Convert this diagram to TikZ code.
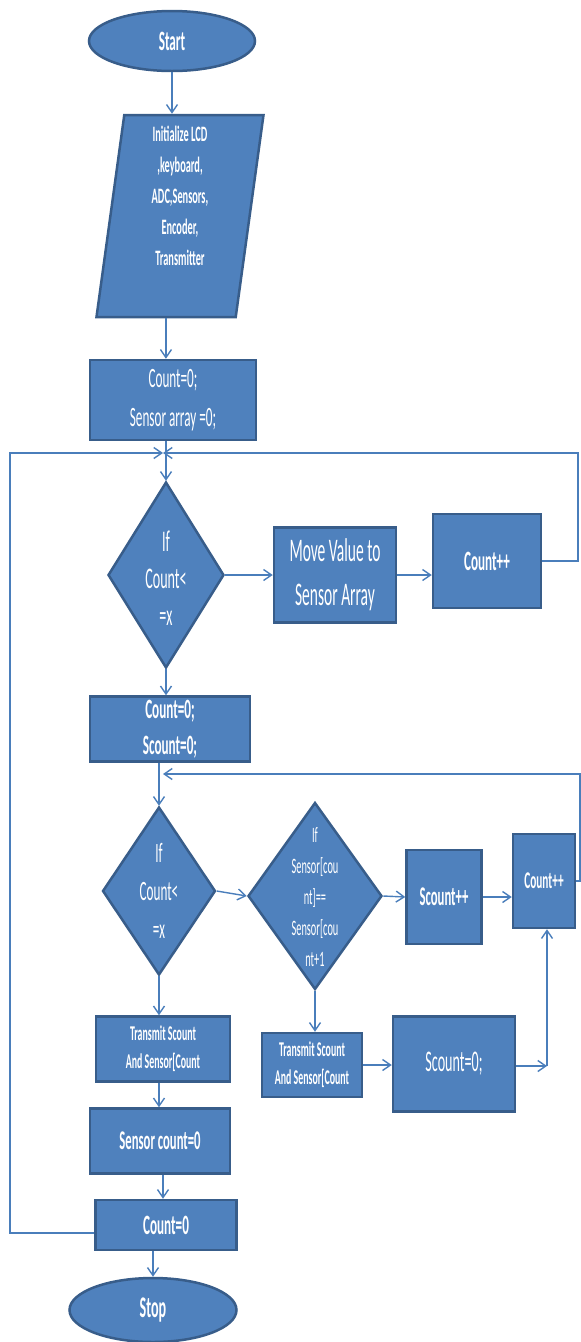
\documentclass[tikz,border=0pt]{standalone}
\usepackage{fontspec}
\setmainfont{Carlito}[FakeStretch=0.47]
\usetikzlibrary{shapes.geometric, arrows.meta, positioning}
\definecolor{flowfill}{RGB}{79,129,189}
\definecolor{flowedge}{RGB}{56,93,138}
\definecolor{flowline}{RGB}{74,126,187}

\begin{document}
\begin{tikzpicture}[x=1pt, y=-1pt,
    base/.style={draw=flowedge, line width=2.5pt, fill=flowfill, text=white, align=center, inner sep=0pt},
    box/.style={base, rectangle},
    term/.style={base, ellipse},
    io/.style={base, trapezium, trapezium left angle=76, trapezium right angle=104, trapezium stretches=true, inner sep=3pt},
    decision/.style={base, diamond},
    inner/.style={text=white, align=center, inner sep=0pt},
    arrow/.style={-{Straight Barb[length=8pt,width=11pt]}, line width=1.4pt, flowline}
]
    \useasboundingbox (0,0) rectangle (581,1342);

    \node[term, minimum width=166, minimum height=60, font=\fontsize{28}{32}\selectfont\bfseries] (start) at (172,41) {Start};
    \node[io, minimum width=167, minimum height=202] (init) at (180,216) {};
    \node[inner, font=\fontsize{22}{31}\selectfont\bfseries] (initt) at (180,196) {Initialize LCD\\,keyboard,\\ADC,Sensors,\\Encoder,\\Transmitter};
    \node[box, minimum width=166, minimum height=80, font=\fontsize{28}{39}\selectfont] (clear) at (173,400) {Count=0;\\Sensor array =0;};

    % first loop
    \coordinate (jA) at (163,453);
    \coordinate (lwall) at (10,453);
    \coordinate (rwall) at (578,453);
    \node[decision, minimum width=116, minimum height=186] (d1) at (166,575) {};
    \node[inner, font=\fontsize{30}{37}\selectfont] (d1t) at (166,578) {If\\Count<\\=x};
    \node[box, minimum width=122, minimum height=95, font=\fontsize{33}{44}\selectfont] (move) at (335,575) {Move Value to\\Sensor Array};
    \node[box, minimum width=108, minimum height=94, font=\fontsize{28}{30}\selectfont\bfseries] (cnt1) at (487,561) {Count++};
    \node[box, minimum width=160, minimum height=65, font=\fontsize{28}{36}\selectfont\bfseries] (reset) at (170,729) {Count=0;\\Scount=0;};

    % second loop
    \coordinate (jB) at (163,774);
    \coordinate (rwall2) at (580,774);
    \node[decision, minimum width=113, minimum height=168] (d2) at (159,891) {};
    \node[inner, font=\fontsize{28}{38}\selectfont] (d2t) at (159,891) {If\\Count<\\=x};
    \node[decision, minimum width=134, minimum height=187] (d3) at (315,896) {};
    \node[inner, font=\fontsize{22}{31}\selectfont] (d3t) at (315,897) {If\\Sensor[cou\\nt]==\\Sensor[cou\\nt+1};
    \node[box, minimum width=75, minimum height=94, font=\fontsize{27}{30}\selectfont\bfseries] (sinc) at (444,897) {Scount++};
    \node[box, minimum width=62, minimum height=94, font=\fontsize{24}{26}\selectfont\bfseries] (cnt2) at (544,881) {Count++};
    \node[box, minimum width=134, minimum height=65, font=\fontsize{21}{28}\selectfont\bfseries] (tx1) at (163,1049) {Transmit Scount\\And Sensor[Count};
    \node[box, minimum width=100, minimum height=64, font=\fontsize{21}{28}\selectfont\bfseries] (tx2) at (312,1065) {Transmit Scount\\And Sensor[Count};
    \node[box, minimum width=122, minimum height=95, font=\fontsize{30}{32}\selectfont] (szero) at (454,1064) {Scount=0;};
    \coordinate (jC) at (547,1066);
    \node[box, minimum width=140, minimum height=65, font=\fontsize{27}{30}\selectfont\bfseries] (senz) at (160,1141) {Sensor count=0};
    \node[box, minimum width=141, minimum height=50, font=\fontsize{28}{30}\selectfont\bfseries] (cz) at (166,1225) {Count=0};
    \node[term, minimum width=167, minimum height=64, font=\fontsize{30}{34}\selectfont\bfseries] (stop) at (153,1310) {Stop};

    \draw[arrow] (start.south) -- (start.south |- init.north);
    \draw[arrow] (init.bottom side) -- (init.bottom side |- clear.north);
    \draw[arrow] (d1.north |- clear.south) -- (d1.north);
    \draw[arrow] (cnt1.east) -| (rwall) -- (jA);
    \draw[arrow] ([yshift=-8pt]cz.west) -| (lwall) -- (jA);
    \draw[arrow] (d1.east) -- (move.west);
    \draw[arrow] (move.east) -- (move.east -| cnt1.west);
    \draw[arrow] (d1.south) -- (d1.south |- reset.north);
    \draw[arrow] (d2.north |- reset.south) -- (d2.north);
    \draw[arrow] (cnt2.east) -| (rwall2) -- (jB);
    \draw[arrow] (d2.east) -- (d3.west);
    \draw[arrow] (d3.east) -- (sinc.west);
    \draw[arrow] (sinc.east) -- (sinc.east -| cnt2.west);
    \draw[arrow] (d2.south) -- (d2.south |- tx1.north);
    \draw[arrow] (d3.south) -- (d3.south |- tx2.north);
    \draw[arrow] (tx2.east) -- (tx2.east -| szero.west);
    \draw[arrow] (szero.east |- jC) -- (jC);
    \draw[arrow] (jC) -- (jC |- cnt2.south);
    \draw[arrow] (d2.south |- tx1.south) -- (d2.south |- senz.north);
    \draw[arrow] (senz.south -| jB) -- (jB |- cz.north);
    \draw[arrow] (stop.north |- cz.south) -- (stop.north);
\end{tikzpicture}
\end{document}
